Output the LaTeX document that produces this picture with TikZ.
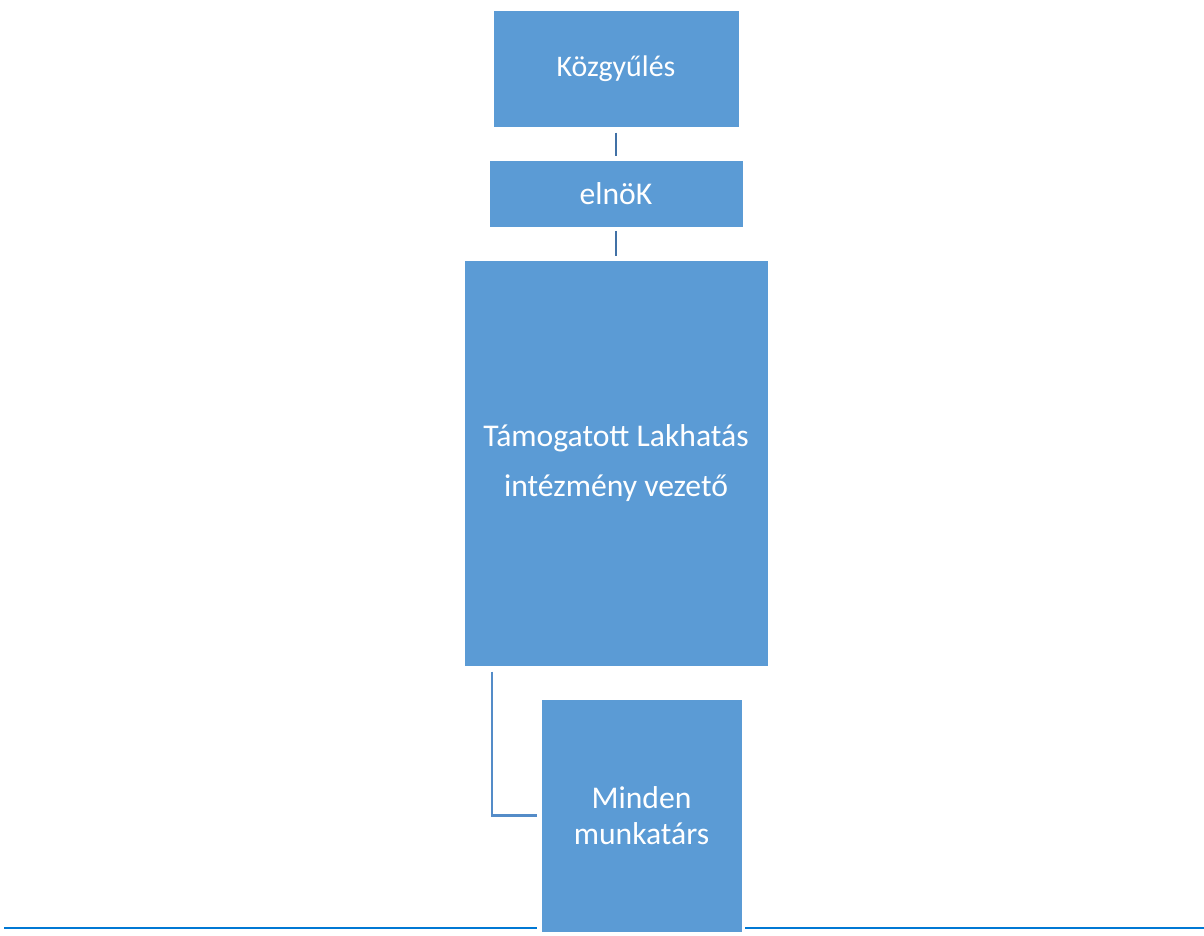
\documentclass[tikz,border=0pt]{standalone}
\usepackage{fontspec}
\setmainfont{Carlito}
\usetikzlibrary{positioning}
\definecolor{boxblue}{RGB}{91,155,213}
\definecolor{linkblue}{RGB}{65,113,166}
\definecolor{elbowblue}{RGB}{84,140,200}
\definecolor{ruleblue}{RGB}{0,120,212}

\begin{document}
\begin{tikzpicture}[x=0.02cm,y=-0.02cm]

\tikzset{box/.style = {rectangle, fill=boxblue, draw=white, line width=0.4pt, text=white, align=center, font=\fontsize{18}{20.5}\selectfont, inner sep=0pt}}
\tikzset{link/.style = {draw=linkblue, line width=1.3pt}}
\useasboundingbox (0,0) rectangle (1204,936);
%boxes
\node[box, minimum width=4.92cm, minimum height=2.34cm, font=\fontsize{17}{20}\selectfont] (kozgy) at (616,68.5) {Közgyűlés};
\node[box, minimum width=5.08cm, minimum height=1.34cm] (elnok) at (616,193.5) {elnöK};
\node[box, minimum width=6.08cm, minimum height=8.12cm, font=\fontsize{18}{28.5}\selectfont] (vezeto) at (616,463) {Támogatott Lakhatás\\intézmény vezető};
\node[box, minimum width=4.02cm, minimum height=4.66cm] (minden) at (641.5,815.5) {Minden\\munkatárs};
%edges
\draw[link] ([yshift=-3pt]kozgy.south) -- ([yshift=2pt]elnok.north);
\draw[link] ([yshift=-2pt]elnok.south) -- ([yshift=2pt]vezeto.north);
\draw[link, draw=elbowblue] ([xshift=0.56cm,yshift=-3pt]vezeto.south west) |- ([xshift=-2pt]minden.west);
%base line
\coordinate (lineL) at (4,928);
\coordinate (lineR) at (1204,928);
\draw[ruleblue, line width=1.2pt] (lineL) -- ([xshift=-2pt]minden.west |- lineL);
\draw[ruleblue, line width=1.2pt] ([xshift=1.7pt]minden.east |- lineR) -- (lineR);

\end{tikzpicture}
\end{document}
